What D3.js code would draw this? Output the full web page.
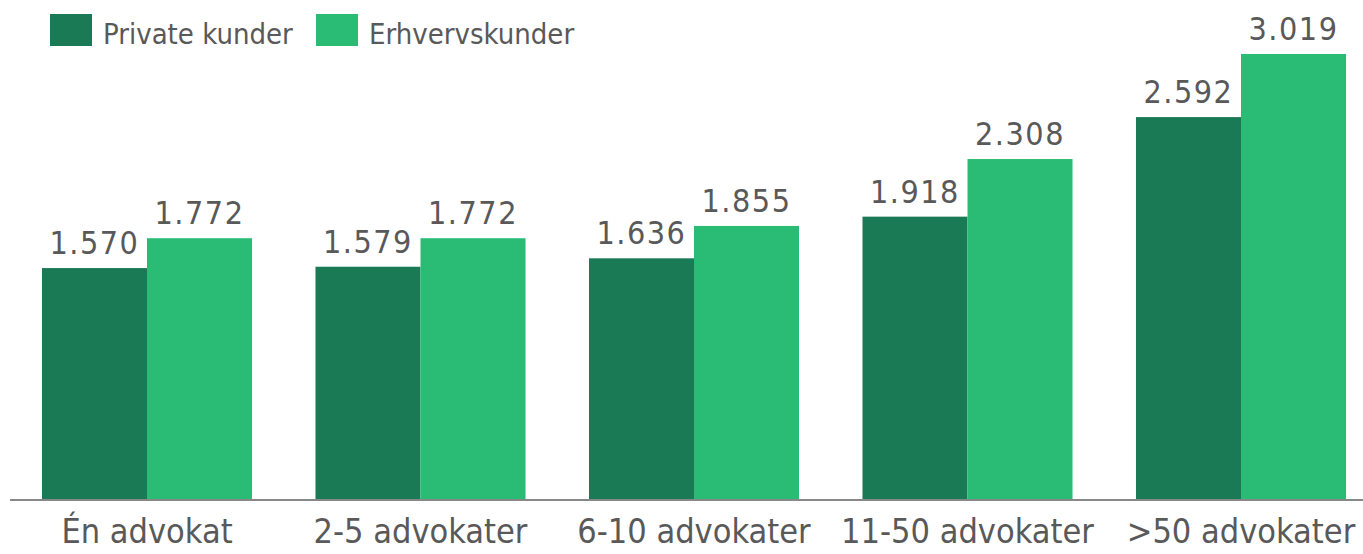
<!DOCTYPE html>
<html>
<head>
<meta charset="utf-8">
<script src="https://cdn.jsdelivr.net/npm/d3@7"></script>
<style>
  body { margin: 0; background: #fff; }
  svg { display: block; font-family: "DejaVu Sans Condensed", "DejaVu Sans", sans-serif; }
</style>
</head>
<body>
<svg id="chart" width="1363" height="554"></svg>
<script>
var categories = ["Én advokat", "2-5 advokater", "6-10 advokater", "11-50 advokater", ">50 advokater"];
var seriesNames = ["Private kunder", "Erhvervskunder"];
var privateValues = [1570, 1579, 1636, 1918, 2592];
var businessValues = [1772, 1772, 1855, 2308, 3019];
var colors = ["#1a7a56", "#2abc74"];

var svg = d3.select("#chart");
var width = 1363, height = 554;
var baseY = 500;

var x0 = d3.scaleBand()
  .domain(categories)
  .range([10.25, 1377.75])
  .paddingInner(0.232)
  .paddingOuter(0.116);

var x1 = d3.scaleBand()
  .domain(seriesNames)
  .range([0, x0.bandwidth()]);

var y = d3.scaleLinear()
  .domain([0, 3019])
  .range([baseY, 54]);

var color = d3.scaleOrdinal().domain(seriesNames).range(colors);
var fmt = function(v) { return d3.format(".3f")(v / 1000); };

var rows = categories.map(function(c, i) {
  return {cat: c, vals: [
    {key: seriesNames[0], value: privateValues[i]},
    {key: seriesNames[1], value: businessValues[i]}
  ]};
});

var groups = svg.selectAll("g.grp")
  .data(rows)
  .join("g")
  .attr("class", "grp")
  .attr("transform", function(d) { return "translate(" + x0(d.cat) + ",0)"; });

groups.selectAll("rect")
  .data(function(d) { return d.vals; })
  .join("rect")
  .attr("x", function(d) { return x1(d.key); })
  .attr("width", x1.bandwidth())
  .attr("y", function(d) { return y(d.value); })
  .attr("height", function(d) { return baseY - y(d.value); })
  .attr("fill", function(d) { return color(d.key); });

groups.selectAll("text.val")
  .data(function(d) { return d.vals; })
  .join("text")
  .attr("class", "val")
  .attr("x", function(d) { return x1(d.key) + x1.bandwidth() / 2; })
  .attr("y", function(d) { return y(d.value) - 14; })
  .attr("text-anchor", "middle")
  .attr("fill", "#595959")
  .style("font-size", "32px")
  .style("letter-spacing", "1.5px")
  .text(function(d) { return fmt(d.value); });

// x axis
var xAxis = d3.axisBottom(x0).tickSize(0).tickPadding(19);
var ax = svg.append("g")
  .attr("transform", "translate(0," + baseY + ")")
  .call(xAxis);
ax.select(".domain").remove();
ax.selectAll("text")
  .attr("fill", "#595959")
  .style("font-size", "34px")
  .style("font-family", "\"DejaVu Sans Condensed\", \"DejaVu Sans\", sans-serif");

svg.append("line")
  .attr("x1", 10).attr("x2", width)
  .attr("y1", baseY).attr("y2", baseY)
  .attr("stroke", "#888")
  .attr("stroke-width", 2);

// legend
var legendX = [50, 316];
var leg = svg.selectAll("g.leg")
  .data(seriesNames)
  .join("g")
  .attr("class", "leg")
  .attr("transform", function(d, i) { return "translate(" + legendX[i] + ",14)"; });
leg.append("rect")
  .attr("width", 42).attr("height", 32)
  .attr("fill", function(d) { return color(d); });
leg.append("text")
  .attr("x", 53).attr("y", 30)
  .attr("fill", "#595959")
  .style("font-size", "29px")
  .text(function(d) { return d; });
</script>
</body>
</html>
